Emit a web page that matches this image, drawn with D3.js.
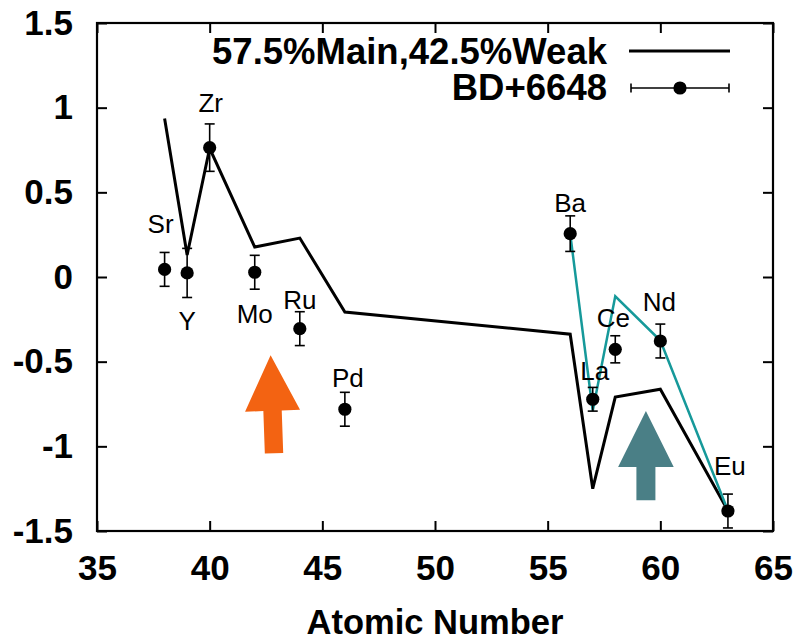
<!DOCTYPE html>
<html>
<head>
<meta charset="utf-8">
<script src="https://cdn.jsdelivr.net/npm/d3@7"></script>
<style>
  body { margin: 0; background: #fff; }
  svg { display: block; }
  text { font-family: "Liberation Sans", Arial, Helvetica, sans-serif; }
</style>
</head>
<body>
<svg id="chart" width="802" height="640"></svg>
<script>
// Observed abundances of BD+6648 with errors
const elements      = ["Sr", "Y", "Zr", "Mo", "Ru", "Pd", "Ba", "La", "Ce", "Nd", "Eu"];
const atomicNumbers = [38, 39, 40, 42, 44, 46, 56, 57, 58, 60, 63];
const observed      = [0.045, 0.024, 0.764, 0.028, -0.305, -0.781, 0.256, -0.722, -0.427, -0.378, -1.382];
const errors        = [0.10, 0.145, 0.14, 0.10, 0.10, 0.10, 0.105, 0.07, 0.08, 0.10, 0.10];

// Mixed r-process model: 57.5% main + 42.5% weak
const modelZ      = [38, 39, 40, 42, 44, 46, 56, 57, 58, 60, 63];
const modelValues = [0.936, 0.13, 0.76, 0.177, 0.23, -0.207, -0.338, -1.25, -0.709, -0.663, -1.38];

// Heavy-element model curve (teal)
const altZ      = [56, 57, 58, 60, 63];
const altValues = [0.256, -0.79, -0.114, -0.375, -1.38];

// Axis ticks
const xTicks = [35, 40, 45, 50, 55, 60, 65];
const yTicks = [-1.5, -1, -0.5, 0, 0.5, 1, 1.5];

// Legend entries
const legendModel = "57.5%Main,42.5%Weak";
const legendStar  = "BD+6648";
const xTitle      = "Atomic Number";

// ---- layout ----
const W = 802, H = 640;
const plot = { left: 97, top: 23, right: 773, bottom: 531 };
const tickLen = 10;

// element label offsets (px) from each point
const labelDx = [-4, 0, 1, 0, 0, 3, 0, 2, -2, -1, 2];
const labelDy = [-36, 57, -36, 51, -20, -22, -22, -19, -22, -30, -36];

// arrow annotations, in data units
const arrows = [
  { tipX: 42.78, tipY: -0.462, baseY: -0.790, tailY: -1.041, head: 27.5, shaft: 9.2, color: "#f36312", tilt: -2 },
  { tipX: 59.36, tipY: -0.791, baseY: -1.122, tailY: -1.319, head: 27.8, shaft: 9.5, color: "#4a7f86", tilt: 0 }
];

const svg = d3.select("#chart");
svg.append("rect").attr("width", W).attr("height", H).attr("fill", "#fff");

const x = d3.scaleLinear().domain([35, 65]).range([plot.left, plot.right]);
const y = d3.scaleLinear().domain([-1.5, 1.5]).range([plot.bottom, plot.top]);

const fmt = d => String(d);

// axes with inward ticks on all four sides
function styleAxis(g) {
  g.select(".domain").remove();
  g.selectAll(".tick line").attr("stroke", "#000").attr("stroke-width", 2);
  g.selectAll(".tick text")
    .attr("fill", "#000")
    .attr("font-size", 35)
    .attr("font-weight", "bold")
    .attr("font-family", "'Liberation Sans', Arial, sans-serif");
}

svg.append("g")
  .attr("transform", `translate(0,${plot.bottom})`)
  .call(d3.axisBottom(x).tickValues(xTicks).tickFormat(fmt).tickSize(-tickLen).tickPadding(24))
  .call(styleAxis);

svg.append("g")
  .attr("transform", `translate(${plot.left},0)`)
  .call(d3.axisLeft(y).tickValues(yTicks).tickFormat(fmt).tickSize(-tickLen).tickPadding(24))
  .call(styleAxis);

svg.append("g")
  .attr("transform", `translate(0,${plot.top})`)
  .call(d3.axisTop(x).tickValues(xTicks).tickFormat("").tickSize(-tickLen))
  .call(styleAxis);

svg.append("g")
  .attr("transform", `translate(${plot.right},0)`)
  .call(d3.axisRight(y).tickValues(yTicks).tickFormat("").tickSize(-tickLen))
  .call(styleAxis);

// frame
svg.append("rect")
  .attr("x", plot.left).attr("y", plot.top)
  .attr("width", plot.right - plot.left).attr("height", plot.bottom - plot.top)
  .attr("fill", "none").attr("stroke", "#000").attr("stroke-width", 2.2);

// axis title
svg.append("text")
  .attr("x", (plot.left + plot.right) / 2).attr("y", 634)
  .attr("text-anchor", "middle")
  .attr("font-size", 34.5).attr("font-weight", "bold")
  .text(xTitle);

// arrows
arrows.forEach(a => {
  const tx = x(a.tipX), ty = y(a.tipY), by = y(a.baseY), ly = y(a.tailY);
  const pts = [
    [tx, ty], [tx + a.head, by], [tx + a.shaft, by], [tx + a.shaft, ly],
    [tx - a.shaft, ly], [tx - a.shaft, by], [tx - a.head, by]
  ];
  const cy = (ty + ly) / 2;
  svg.append("path")
    .attr("d", "M" + pts.map(p => p.join(",")).join("L") + "Z")
    .attr("fill", a.color)
    .attr("transform", `rotate(${a.tilt},${tx},${cy})`);
});

// model curves
const line = d3.line().x(d => x(d[0])).y(d => y(d[1]));

svg.append("path")
  .datum(d3.zip(modelZ, modelValues))
  .attr("d", line)
  .attr("fill", "none").attr("stroke", "#000").attr("stroke-width", 3)
  .attr("stroke-linejoin", "miter");

svg.append("path")
  .datum(d3.zip(altZ, altValues))
  .attr("d", line)
  .attr("fill", "none").attr("stroke", "#16999a").attr("stroke-width", 2.5)
  .attr("stroke-linejoin", "miter");

// observed points with error bars
const obs = elements.map((el, i) => ({
  el, z: atomicNumbers[i], v: observed[i], e: errors[i], dx: labelDx[i], dy: labelDy[i]
}));

const capW = 5;
const pts = svg.append("g");
obs.forEach(d => {
  const cx = x(d.z), y1 = y(d.v + d.e), y2 = y(d.v - d.e);
  pts.append("line").attr("x1", cx).attr("x2", cx).attr("y1", y1).attr("y2", y2)
    .attr("stroke", "#000").attr("stroke-width", 1.6);
  [y1, y2].forEach(yy => pts.append("line")
    .attr("x1", cx - capW).attr("x2", cx + capW).attr("y1", yy).attr("y2", yy)
    .attr("stroke", "#000").attr("stroke-width", 1.6));
  pts.append("circle").attr("cx", cx).attr("cy", y(d.v)).attr("r", 6.6).attr("fill", "#000");
  pts.append("text")
    .attr("x", cx + d.dx).attr("y", y(d.v) + d.dy)
    .attr("text-anchor", "middle")
    .attr("font-size", 26)
    .attr("fill", "#000")
    .text(d.el);
});

// legend
const legend = svg.append("g");
legend.append("text")
  .attr("x", 607).attr("y", 63.5)
  .attr("text-anchor", "end")
  .attr("font-size", 36.5).attr("font-weight", "bold")
  .text(legendModel);
legend.append("line")
  .attr("x1", 629).attr("x2", 730).attr("y1", 51).attr("y2", 51)
  .attr("stroke", "#000").attr("stroke-width", 3);

legend.append("text")
  .attr("x", 607).attr("y", 100)
  .attr("text-anchor", "end")
  .attr("font-size", 36.5).attr("font-weight", "bold")
  .text(legendStar);
legend.append("line")
  .attr("x1", 631).attr("x2", 729).attr("y1", 88).attr("y2", 88)
  .attr("stroke", "#000").attr("stroke-width", 1.6);
[631, 729].forEach(xx => legend.append("line")
  .attr("x1", xx).attr("x2", xx).attr("y1", 83.5).attr("y2", 92.5)
  .attr("stroke", "#000").attr("stroke-width", 1.6));
legend.append("circle").attr("cx", 680).attr("cy", 88).attr("r", 6.6).attr("fill", "#000");
</script>
</body>
</html>
